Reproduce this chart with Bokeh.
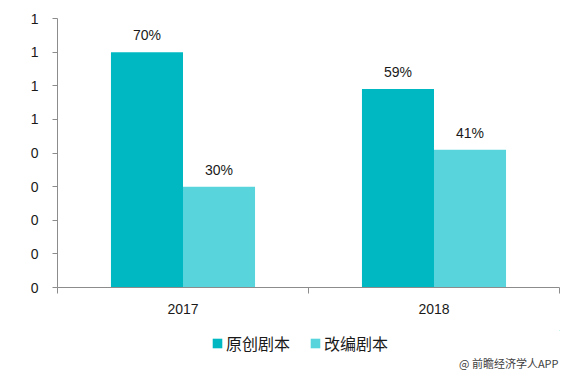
from bokeh.plotting import figure
from bokeh.layouts import column
from bokeh.models import (ColumnDataSource, Range1d, FixedTicker, Legend, LegendItem, Label)
from bokeh.embed import file_html
from bokeh.resources import INLINE
import numpy as np

years = ["2017", "2018"]
original = [0.70, 0.59]
adapted = [0.30, 0.41]
series_names = ["原创剧本", "改编剧本"]
colors = ["#00B8C2", "#58D5DC"]
y_ticks = [0, 0.1, 0.2, 0.3, 0.4, 0.5, 0.6, 0.7, 0.8]
y_tick_labels = ["0", "0", "0", "0", "0", "1", "1", "1", "1"]
source_note = "@ 前瞻经济学人APP"

n = len(years)
centers = np.arange(n) + 0.5
bar_w = 0.287
dodge = bar_w / 2

W = 569
p = figure(width=W, height=330, output_backend="svg", toolbar_location=None,
           x_range=Range1d(0, n), y_range=Range1d(0, 0.8))
p.min_border_left = 57
p.min_border_right = 10
p.min_border_top = 18
p.min_border_bottom = 43
p.outline_line_color = None
p.grid.grid_line_color = None

src1 = ColumnDataSource(dict(x=centers - dodge, top=original,
                             lab=[f"{round(v*100)}%" for v in original]))
src2 = ColumnDataSource(dict(x=centers + dodge, top=adapted,
                             lab=[f"{round(v*100)}%" for v in adapted]))
p.vbar(x="x", top="top", width=bar_w, source=src1, color=colors[0], line_color=None)
p.vbar(x="x", top="top", width=bar_w, source=src2, color=colors[1], line_color=None)

for s in (src1, src2):
    p.text(x="x", y="top", text="lab", source=s, text_align="center",
           text_baseline="bottom", y_offset=-9, text_font_size="14px",
           text_color="#1a1a1a", text_font={"value": "Liberation Sans"})

axis_color = "#8c8c8c"
p.yaxis.ticker = FixedTicker(ticks=y_ticks)
p.yaxis.major_label_overrides = {t: l for t, l in zip(y_ticks, y_tick_labels)}
p.yaxis.minor_tick_line_color = None
p.yaxis.major_tick_out = 5
p.yaxis.major_tick_in = 0
p.yaxis.axis_line_color = axis_color
p.yaxis.major_tick_line_color = axis_color
p.yaxis.major_label_standoff = 14
p.yaxis.major_label_text_font = "Liberation Sans"
p.yaxis.major_label_text_font_size = "14px"
p.yaxis.major_label_text_color = "#1a1a1a"

p.xaxis.ticker = FixedTicker(ticks=list(centers), minor_ticks=list(range(n + 1)))
p.xaxis.major_label_overrides = {float(c): y for c, y in zip(centers, years)}
p.xaxis.major_tick_line_color = None
p.xaxis.minor_tick_line_color = axis_color
p.xaxis.minor_tick_out = 6
p.xaxis.minor_tick_in = 0
p.xaxis.major_tick_out = 6
p.xaxis.axis_line_color = axis_color
p.xaxis.major_label_standoff = 10
p.xaxis.major_label_text_font = "Liberation Sans"
p.xaxis.major_label_text_font_size = "14px"
p.xaxis.major_label_text_color = "#1a1a1a"

# legend / note strip (its frame is aligned with the chart's frame)
H2 = 45
p2 = figure(width=W, height=H2, output_backend="svg", toolbar_location=None,
            x_range=Range1d(-2, -1), y_range=Range1d(-2, -1),
            x_axis_type=None, y_axis_type=None, outline_line_color=None)
p2.min_border_left = 0
p2.min_border_right = 0
p2.min_border_top = 0
p2.min_border_bottom = 0
p2.grid.grid_line_color = None
g1 = p2.vbar(x="x", top="top", width=bar_w, source=src1, color=colors[0], line_color=None)
g2 = p2.vbar(x="x", top="top", width=bar_w, source=src2, color=colors[1], line_color=None)
legend = Legend(items=[LegendItem(label=series_names[0], renderers=[g1]),
                       LegendItem(label=series_names[1], renderers=[g2])],
                orientation="horizontal", location=(154, 20),
                glyph_width=12, glyph_height=12, label_height=12,
                label_standoff=3, spacing=19,
                padding=0, margin=0, border_line_color=None,
                background_fill_alpha=0,
                label_text_font="Noto Sans CJK SC", label_text_font_size="16px",
                label_text_color="#1a1a1a")
p2.add_layout(legend, "center")
p2.add_layout(Label(x=501, y=5, x_units="screen", y_units="screen",
                    text=source_note, text_align="right", text_font="Noto Sans CJK SC",
                    text_font_size="11px", text_color="#404040"))

open("out.html", "w").write(file_html(column(p, p2), INLINE))
